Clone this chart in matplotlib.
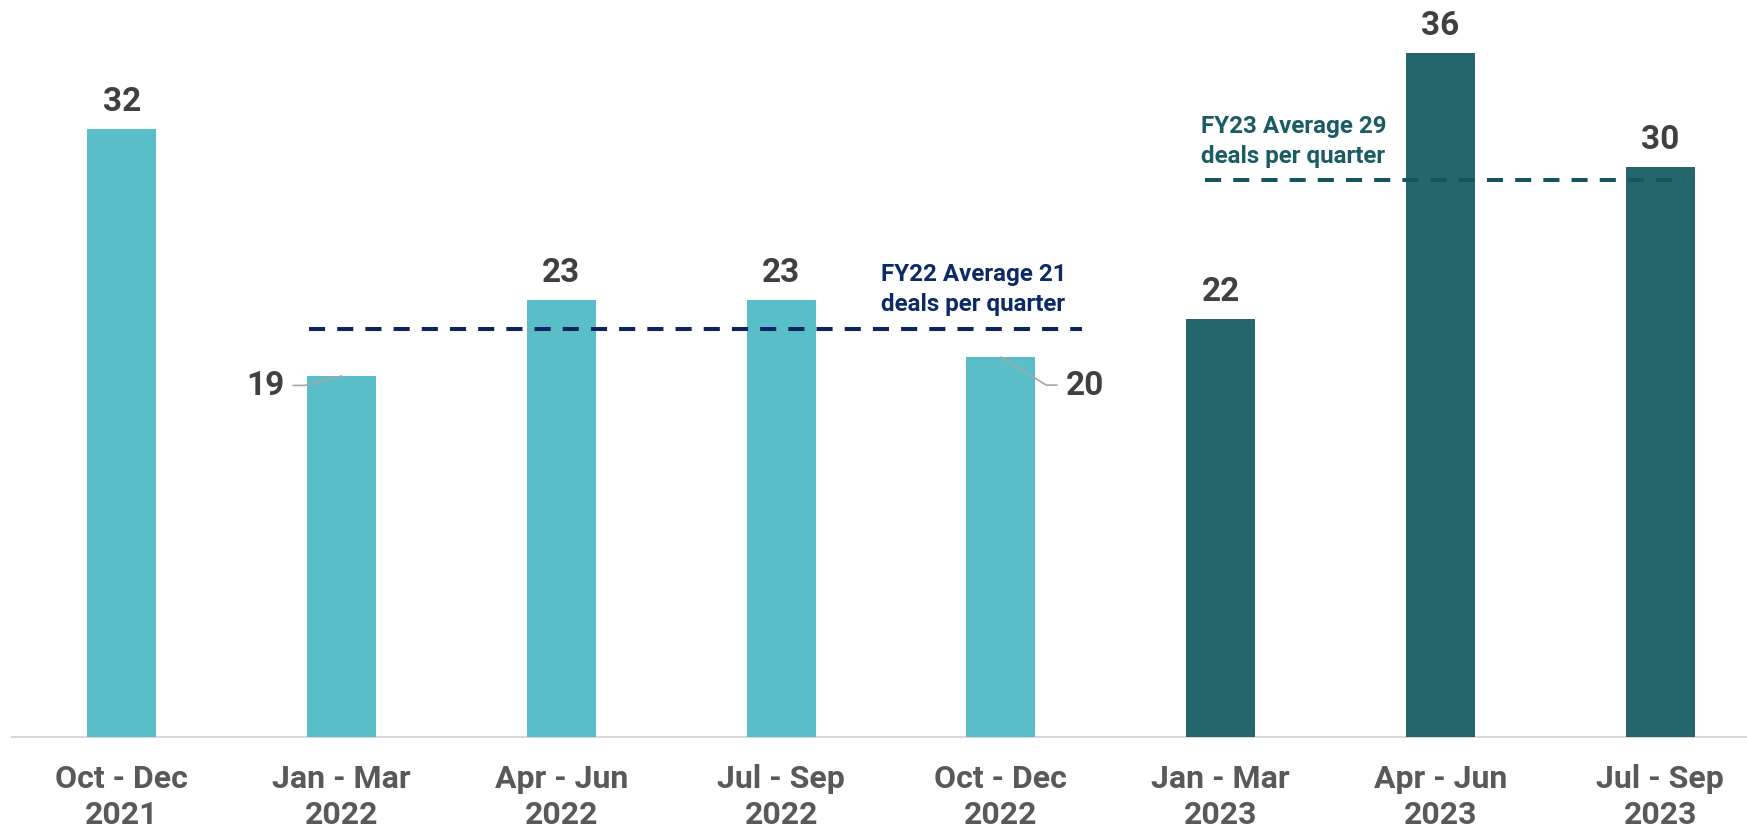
import matplotlib
matplotlib.use("Agg")
import matplotlib.pyplot as plt

# ---------------- data ----------------
quarters = ["Oct - Dec\n2021", "Jan - Mar\n2022", "Apr - Jun\n2022", "Jul - Sep\n2022",
            "Oct - Dec\n2022", "Jan - Mar\n2023", "Apr - Jun\n2023", "Jul - Sep\n2023"]
deals = [32, 19, 23, 23, 20, 22, 36, 30]
fiscal_year = ["FY22", "FY22", "FY22", "FY22", "FY22", "FY23", "FY23", "FY23"]

avg_names = ["FY22", "FY23"]
avg_levels = [21.5, 29.3]
avg_texts = ["FY22 Average 21\ndeals per quarter", "FY23 Average 29\ndeals per quarter"]

# ---------------- style ----------------
bar_colors = {"FY22": "#5ABEC8", "FY23": "#24666C"}
avg_line_colors = {"FY22": "#0D2462", "FY23": "#16555E"}
avg_text_colors = {"FY22": "#0C2A66", "FY23": "#1B5C64"}
avg_span = {"FY22": (0.853, 4.37), "FY23": (4.93, 7.115)}
avg_text_pos = {"FY22": (3.455, 25.0), "FY23": (4.91, 32.78)}

FONT = "Roboto"
plt.rcParams["font.family"] = [FONT, "DejaVu Sans"]

W, H = 1747, 829
fig = plt.figure(figsize=(W / 100, H / 100), dpi=100)
left_px, bottom_px = 12, 91
ax = fig.add_axes([left_px / W, bottom_px / H, (W - left_px) / W, (H - bottom_px) / H])

x = list(range(len(deals)))
colors = [bar_colors[f] for f in fiscal_year]
ax.bar(x, deals, width=0.314, color=colors, zorder=2)

px_per_cat = 219.76
px_per_unit = 19.0
ax.set_xlim(-0.5, -0.5 + (W - left_px) / px_per_cat)
ax.set_ylim(0, (H - bottom_px) / px_per_unit)

for s in ["top", "left", "right"]:
    ax.spines[s].set_visible(False)
ax.spines["bottom"].set_color("#D9D9D9")
ax.spines["bottom"].set_linewidth(1.5)
ax.spines["bottom"].set_zorder(1)
ax.set_yticks([])
ax.set_xticks(x)
ax.set_xticklabels(quarters, fontsize=23, fontweight="bold", color="#595959",
                   linespacing=1.22)
ax.tick_params(axis="x", length=0, pad=19)

# ---------------- value labels ----------------
leader_side = {1: "left", 4: "right"}
for i, v in enumerate(deals):
    if i in leader_side:
        if leader_side[i] == "left":
            ax.annotate(str(v), xy=(i, v), xytext=(-41.5, -6.8), textcoords="offset points",
                        ha="right", va="center", fontsize=24, fontweight="bold", color="#404040",
                        arrowprops=dict(arrowstyle="-", color="#A6A6A6", lw=1.2,
                                        relpos=(1, 0.5), shrinkA=4.5, shrinkB=0,
                                        connectionstyle="angle,angleA=0,angleB=14.3,rad=0"))
        else:
            ax.annotate(str(v), xy=(i, v), xytext=(46.9, -20.2), textcoords="offset points",
                        ha="left", va="center", fontsize=24, fontweight="bold", color="#404040",
                        arrowprops=dict(arrowstyle="-", color="#A6A6A6", lw=1.2,
                                        relpos=(0, 0.5), shrinkA=4.5, shrinkB=0,
                                        connectionstyle="angle,angleA=0,angleB=-31.8,rad=0"))
    else:
        ax.annotate(str(v), xy=(i, v), xytext=(0, 13.7), textcoords="offset points",
                    ha="center", va="baseline", fontsize=24, fontweight="bold", color="#404040")

# ---------------- average lines ----------------
for name, lvl, txt in zip(avg_names, avg_levels, avg_texts):
    x0, x1 = avg_span[name]
    ax.plot([x0, x1], [lvl, lvl], color=avg_line_colors[name], lw=2.9,
            linestyle=(0, (4, 3)), dash_capstyle="butt", zorder=3)
    tx, ty = avg_text_pos[name]
    ax.text(tx, ty, txt, ha="left", va="top", fontsize=17.4, fontweight="bold",
            color=avg_text_colors[name], linespacing=1.4)

fig.savefig("out.png", dpi=100, facecolor="white")
